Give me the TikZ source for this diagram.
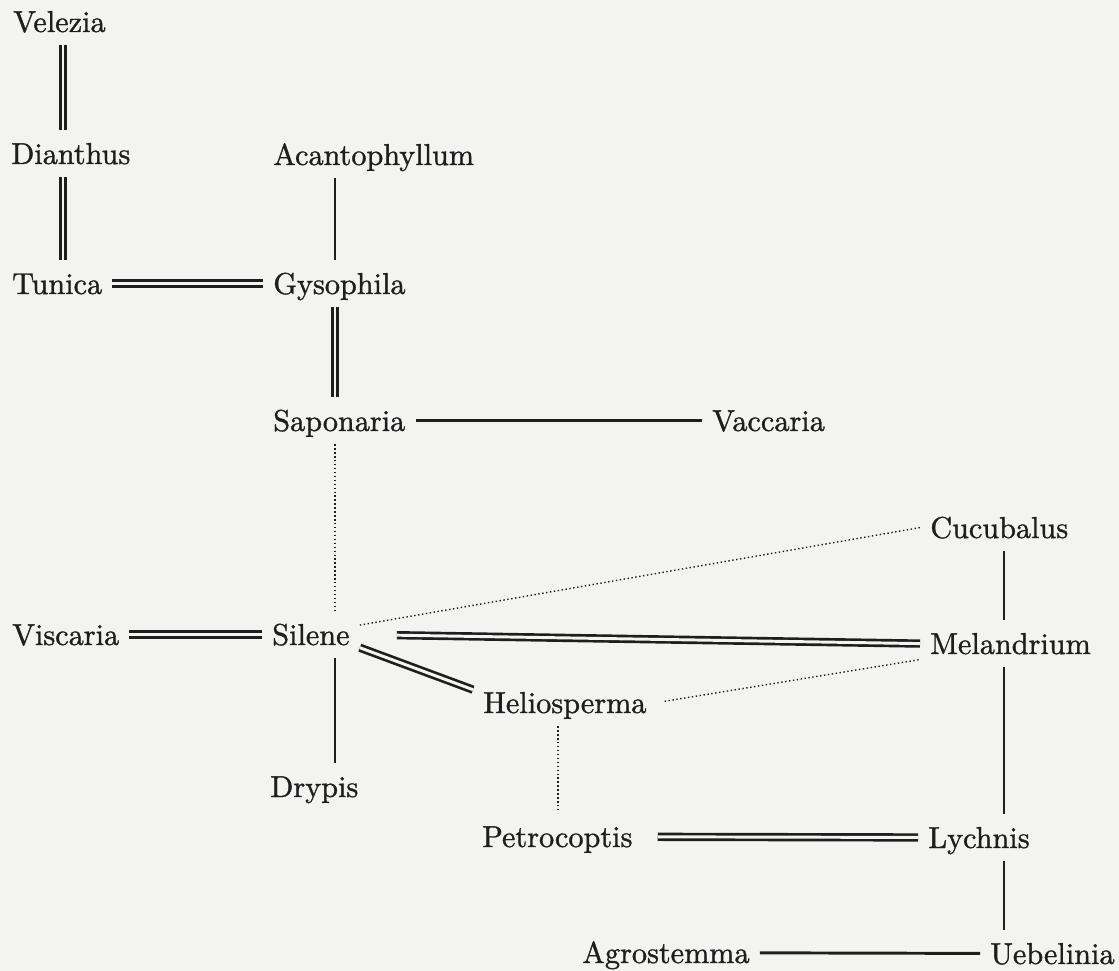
\documentclass[tikz,border=0pt]{standalone}
\usepackage{fontspec}
\usetikzlibrary{positioning}

\newfontface\taxonfont{lmroman10-regular.otf}[FakeBold=1.1]

\definecolor{paper}{RGB}{243,243,241}
\definecolor{ink}{RGB}{30,30,30}

\tikzset{
  taxon/.style={anchor=base west, inner xsep=0.25cm, inner ysep=0.325cm, text height=0.52cm, text depth=0pt, text=ink, font=\taxonfont\fontsize{21.5}{26}\selectfont},
  strongLink/.style={draw=ink, line width=1.9pt, double=paper, double distance=2.1pt},
  weakLink/.style={draw=ink, line width=2.1pt},
  doubtLink/.style={draw=ink, line width=1pt, dash pattern=on 1pt off 1.8pt},
}

\begin{document}
\begin{tikzpicture}[x=0.025cm, y=-0.025cm]

    \fill[paper] (0,0) rectangle (1119,971);
    \useasboundingbox (0,0) rectangle (1119,971);

    % columns of the vertical links
    \coordinate (colA) at (63,0);
    \coordinate (colB) at (335,0);
    \coordinate (colC) at (558,0);
    \coordinate (colD) at (1004,0);

    \node[taxon] (ndVelezia) at (3,32) {Velezia};
    \node[taxon] (ndDianthus) at (1,164) {Dianthus};
    \node[taxon] (ndAcantophyllum) at (263,165) {Acantophyllum};
    \node[taxon] (ndTunica) at (2,294) {Tunica};
    \node[taxon] (ndGysophila) at (263,294) {Gysophila};
    \node[taxon] (ndSaponaria) at (263,431) {Saponaria};
    \node[taxon] (ndVaccaria) at (702,431) {Vaccaria};
    \node[taxon] (ndCucubalus) at (920,538) {Cucubalus};
    \node[taxon] (ndViscaria) at (2,645) {Viscaria};
    \node[taxon] (ndSilene) at (262,645) {Silene};
    \node[taxon] (ndMelandrium) at (920,654) {Melandrium};
    \node[taxon] (ndHeliosperma) at (473,713) {Heliosperma};
    \node[taxon] (ndDrypis) at (260,797) {Drypis};
    \node[taxon] (ndPetrocoptis) at (472,847) {Petrocoptis};
    \node[taxon] (ndLychnis) at (918,848) {Lychnis};
    \node[taxon] (ndAgrostemma) at (572,963) {Agrostemma};
    \node[taxon] (ndUebelinia) at (980,964) {Uebelinia};

    % left column
    \draw[strongLink] (ndVelezia.south -| colA) -- (ndDianthus.north -| colA);
    \draw[strongLink] (ndDianthus.south -| colA) -- (ndTunica.north -| colA);
    \draw[strongLink] (ndTunica) -- (ndGysophila);

    % middle column
    \draw[weakLink] (ndAcantophyllum.south -| colB) -- (ndGysophila.north -| colB);
    \draw[strongLink] (ndGysophila.south -| colB) -- (ndSaponaria.north -| colB);
    \draw[weakLink] (ndSaponaria) -- (ndVaccaria);
    \draw[doubtLink] (ndSaponaria.south -| colB) -- (ndSilene.north -| colB);
    \draw[strongLink] (ndViscaria) -- (ndSilene);
    \draw[weakLink] (ndSilene.south -| colB) -- (ndDrypis.north -| colB);
    \draw[doubtLink] (ndSilene.11) -- (ndCucubalus.west);
    \draw[strongLink, shorten <=0.925cm] (ndSilene.east) -- (ndMelandrium.west);
    \draw[strongLink] (ndSilene.-15) -- (ndHeliosperma.172);
    \draw[doubtLink, shorten <=0.2cm] (ndHeliosperma.east) -- (ndMelandrium.190);
    \draw[doubtLink] (ndHeliosperma.south -| colC) -- (ndPetrocoptis.north -| colC);
    \draw[strongLink, shorten <=0.375cm] (ndPetrocoptis) -- (ndLychnis);

    % right column
    \draw[weakLink] (ndCucubalus.south -| colD) -- (ndMelandrium.north -| colD);
    \draw[weakLink] (ndMelandrium.south -| colD) -- (ndLychnis.north -| colD);
    \draw[weakLink] (ndLychnis.south -| colD) -- (ndUebelinia.north -| colD);
    \draw[weakLink] (ndAgrostemma) -- (ndUebelinia);
\end{tikzpicture}
\end{document}
